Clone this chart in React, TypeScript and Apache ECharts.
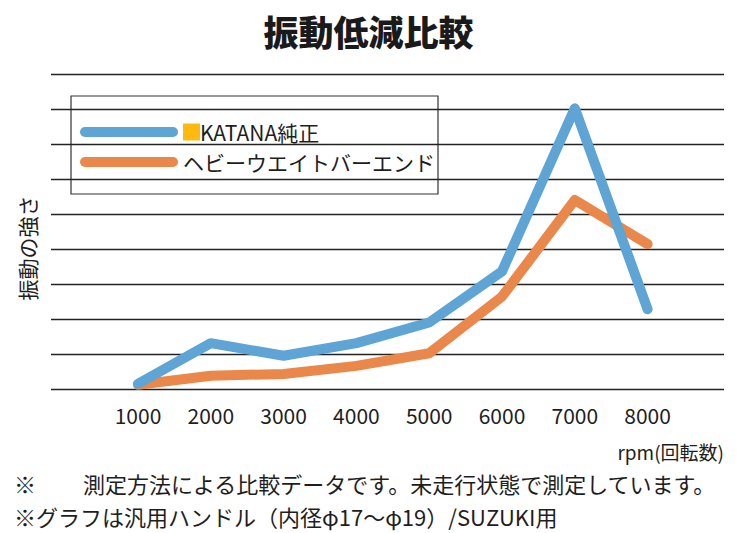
import React, { useEffect, useRef } from "react";
import * as echarts from "echarts";

const categories = ["1000", "2000", "3000", "4000", "5000", "6000", "7000", "8000"];
const seriesNames = ["KATANA純正", "ヘビーウエイトバーエンド"];
const katanaValues = [0.15, 1.31, 0.95, 1.31, 1.9, 3.36, 8.02, 2.28];
const heavyValues = [0.12, 0.38, 0.43, 0.66, 1.02, 2.64, 5.4, 4.14];
const yTicks = [0, 1, 2, 3, 4, 5, 6, 7, 8, 9];
const titleText = "振動低減比較";
const yAxisName = "振動の強さ";
const xAxisName = "rpm(回転数)";
const noteMark = "※";
const note1 = "測定方法による比較データです。未走行状態で測定しています。";
const note2 = "※グラフは汎用ハンドル（内径φ17〜φ19）/SUZUKI用";

const FONT = "'Noto Sans CJK JP', 'Noto Sans', sans-serif";
const TEXT = "#1e1e1e";
const BLUE = "#5EA4D4";
const ORANGE = "#EA884C";

export default function App() {
  const ref = useRef<HTMLDivElement>(null);
  useEffect(() => {
    document.body.style.margin = "0";
    if (!ref.current) return;
    const chart = echarts.init(ref.current, null, { renderer: "svg" });
    const pill = "path://M5,0 H93 A5,5 0 0 1 93,10 H5 A5,5 0 0 1 5,0 Z";
    chart.setOption({
      animation: false,
      backgroundColor: "#ffffff",
      textStyle: { fontFamily: FONT },
      title: {
        text: titleText,
        left: "center",
        top: 8,
        textStyle: { fontFamily: FONT, fontSize: 35, fontWeight: 900, color: "#1a1a1a" },
      },
      grid: [
        { left: 51, right: 13, top: 74, bottom: 144 },
        { left: 101.6, width: 582.4, top: 74, bottom: 144 },
      ],
      xAxis: [
        { type: "value", gridIndex: 0, show: false, min: 0, max: 1 },
        {
          type: "category",
          gridIndex: 1,
          data: categories,
          boundaryGap: true,
          axisLine: { show: false },
          axisTick: { show: false },
          axisLabel: { fontSize: 21, color: TEXT, margin: 15, fontFamily: FONT },
        },
      ],
      yAxis: [
        {
          type: "value",
          gridIndex: 0,
          min: yTicks[0],
          max: yTicks[yTicks.length - 1],
          interval: 1,
          axisLabel: { show: false },
          axisLine: { show: false },
          axisTick: { show: false },
          splitLine: { lineStyle: { color: "#222", width: 1.3 } },
        },
        {
          type: "value",
          gridIndex: 1,
          min: yTicks[0],
          max: yTicks[yTicks.length - 1],
          interval: 1,
          show: false,
          splitLine: { show: false },
        },
      ],
      legend: {
        orient: "vertical",
        left: 75,
        top: 115,
        itemWidth: 98,
        itemHeight: 10,
        itemGap: 6,
        icon: pill,
        data: seriesNames,
        formatter: (name: string) =>
          name === seriesNames[0] ? "{sq|}{t|" + name + "}" : "{t|" + name + "}",
        textStyle: {
          fontFamily: FONT,
          fontSize: 21,
          color: TEXT,
          lineHeight: 24,
          rich: {
            sq: { width: 17, height: 17, backgroundColor: "#FFB90F", align: "left" },
            t: { fontFamily: FONT, fontSize: 21, color: TEXT, lineHeight: 24 },
          },
        },
      },
      series: [
        {
          name: seriesNames[0],
          type: "line",
          xAxisIndex: 1,
          yAxisIndex: 1,
          data: katanaValues,
          symbol: "none",
          color: BLUE,
          lineStyle: { color: BLUE, width: 10, cap: "round", join: "round" },
          z: 3,
        },
        {
          name: seriesNames[1],
          type: "line",
          xAxisIndex: 1,
          yAxisIndex: 1,
          data: heavyValues,
          symbol: "none",
          color: ORANGE,
          lineStyle: { color: ORANGE, width: 10, cap: "round", join: "round" },
          z: 2,
        },
      ],
      graphic: [
        {
          type: "rect",
          shape: { x: 71, y: 96, width: 367, height: 98 },
          style: { fill: "#fff", stroke: "#333", lineWidth: 1.2 },
          z: 0,
        },
        {
          type: "text",
          x: 27,
          y: 248,
          rotation: Math.PI / 2,
          style: {
            text: yAxisName,
            fontFamily: FONT,
            fontSize: 21,
            fill: TEXT,
            textAlign: "center",
            textVerticalAlign: "middle",
          },
        },
        {
          type: "text",
          x: 724,
          y: 451,
          style: {
            text: xAxisName,
            fontFamily: FONT,
            fontSize: 19,
            fill: TEXT,
            textAlign: "right",
            textVerticalAlign: "middle",
          },
        },
        {
          type: "text",
          x: 14,
          y: 483,
          style: { text: noteMark, fontFamily: FONT, fontSize: 22, lineHeight: 24, fill: TEXT, textVerticalAlign: "middle" },
        },
        {
          type: "text",
          x: 83,
          y: 483,
          style: { text: note1, fontFamily: FONT, fontSize: 22, lineHeight: 24, fill: TEXT, textVerticalAlign: "middle" },
        },
        {
          type: "text",
          x: 14,
          y: 516,
          style: { text: note2, fontFamily: FONT, fontSize: 22, lineHeight: 24, fill: TEXT, textVerticalAlign: "middle" },
        },
      ],
    });
    return () => chart.dispose();
  }, []);
  return <div ref={ref} style={{ width: 737, height: 533 }} />;
}
